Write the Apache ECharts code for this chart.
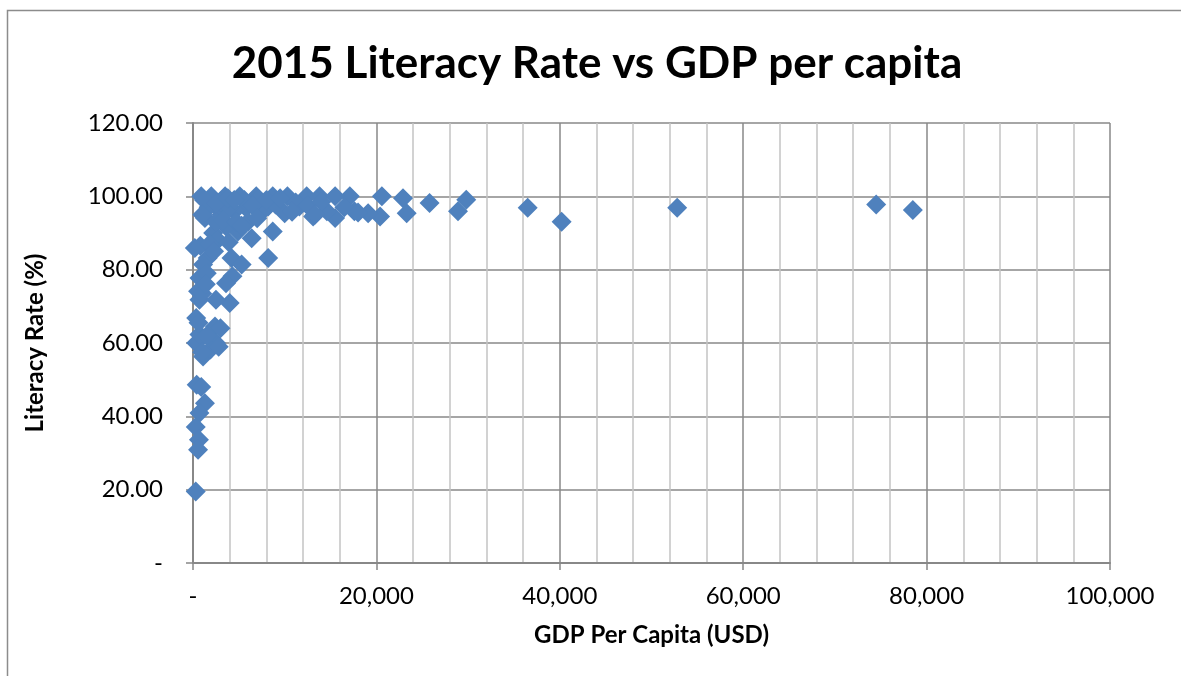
<!DOCTYPE html>
<html>
<head>
<meta charset="utf-8">
<script src="https://cdn.jsdelivr.net/npm/echarts@6/dist/echarts.min.js"></script>
<style>
html,body{margin:0;padding:0;background:#fff;}
#chart{width:1181px;height:676px;}
</style>
</head>
<body>
<div id="chart"></div>
<script>
// GDP per capita (USD)
const gdpPerCapita = [
  78500, 74500, 52800, 40200, 36500, 29800, 28900, 25800, 23300, 22900,
  20600, 20400, 19100, 17600, 17100, 15500, 15500, 14600, 13800, 13100,
  12400, 11600, 10300, 10000, 8700, 8700, 8200,
  8200, 6900, 6400, 5800, 5100, 4900, 4500, 4200, 3600, 3500,
  2900, 2200, 2000, 1600, 1300, 1100, 900, 200, 5300, 4300,
  3600, 700, 550, 700, 4000, 2500, 350, 2400, 350, 2500,
  1100, 700, 400, 1300, 700, 300, 650, 550, 300,
  11200, 7500, 6000, 7100, 3100, 2700, 1900, 1500, 800, 3000,
  4000, 5600, 6500, 1700, 1200, 2500, 3300, 4700, 5300, 7000,
  9000, 12500, 14000, 16500, 1800, 2300, 3900, 1000, 1400, 600,
  1500, 2800, 900, 1000, 3000, 1000, 2500, 3800, 4500, 8000,
  9500, 10800, 18000, 13300
];
// Literacy rate (%), same order
const literacyRate = [
  96.3, 97.8, 96.9, 93.1, 96.9, 99.1, 95.9, 98.2, 95.4, 99.5,
  100.0, 94.5, 95.4, 95.9, 100.0, 100.0, 94.1, 95.9, 100.0, 94.5,
  100.0, 97.2, 100.0, 95.4, 100.0, 90.4, 97.2,
  83.2, 100.0, 88.6, 96.8, 100.0, 90.4, 95.9, 83.2, 91.8, 100.0,
  96.3, 90.0, 100.0, 83.2, 94.1, 81.4, 100.0, 85.9, 81.4, 78.2,
  76.3, 77.7, 74.1, 71.8, 70.9, 71.8, 66.8, 64.5, 60.0, 60.0,
  56.3, 62.3, 48.6, 43.6, 40.9, 37.1, 33.6, 30.9, 19.5,
  98.3, 95.8, 93.1, 99.3, 95.0, 88.1, 58.2, 79.0, 86.5, 98.5,
  97.0, 99.0, 97.5, 97.0, 99.0, 93.0, 93.5, 93.0, 92.0, 94.0,
  97.8, 97.5, 98.5, 97.0, 87.0, 85.0, 87.5, 73.5, 76.0, 65.5,
  62.0, 59.0, 48.0, 57.5, 64.0, 95.0, 98.0, 99.5, 99.0, 99.0,
  99.5, 95.8, 95.6, 95.0
];
const titleText = '2015 Literacy Rate vs GDP per capita';
const xTitle = 'GDP Per Capita (USD)';
const yTitle = 'Literacy Rate (%)';

const points = gdpPerCapita.map((g, i) => [g, literacyRate[i]]);

const chart = echarts.init(document.getElementById('chart'), null, {renderer: 'canvas'});
const FONT = 'Lato, "Open Sans", sans-serif';
const major = '#888888';
const minor = '#c4c4c4';

chart.setOption({
  animation: false,
  backgroundColor: '#ffffff',
  grid: {left: 193, right: 71, top: 123, bottom: 113, containLabel: false},
  graphic: [
    {type: 'rect', shape: {x: 7.5, y: 10.5, width: 1300, height: 800},
     style: {fill: 'none', stroke: '#8c8c8c', lineWidth: 1.5}, silent: true, z: -1},
    {type: 'text', x: 597, y: 64,
     style: {text: titleText, font: 'bold 44px ' + FONT, fill: '#000',
             textAlign: 'center', textVerticalAlign: 'middle'}}
  ],
  xAxis: {
    type: 'value', min: 0, max: 100000, interval: 20000,
    name: xTitle, nameLocation: 'middle', nameGap: 60,
    nameTextStyle: {fontFamily: FONT, fontWeight: 'bold', fontSize: 24, color: '#000'},
    axisLine: {show: true, lineStyle: {color: major, width: 2}},
    axisTick: {show: true, length: 7, lineStyle: {color: major, width: 1.5}},
    minorTick: {show: false, splitNumber: 5},
    splitLine: {show: true, lineStyle: {color: major, width: 1.5}},
    minorSplitLine: {show: true, lineStyle: {color: minor, width: 1.5}},
    axisLabel: {fontFamily: FONT, fontSize: 24, color: '#000', margin: 21,
      formatter: v => v === 0 ? '-' : v.toLocaleString('en-US')}
  },
  yAxis: {
    type: 'value', min: 0, max: 120, interval: 20,
    name: yTitle, nameLocation: 'middle', nameGap: 146, nameRotate: 90,
    nameTextStyle: {fontFamily: FONT, fontWeight: 'bold', fontSize: 24, color: '#000'},
    axisLine: {show: true, lineStyle: {color: major, width: 2}},
    axisTick: {show: true, length: 7, lineStyle: {color: major, width: 1.5}},
    splitLine: {show: true, lineStyle: {color: major, width: 1.5}},
    axisLabel: {fontFamily: FONT, fontSize: 24, color: '#000', margin: 30,
      formatter: v => v === 0 ? '-' : v.toFixed(2)}
  },
  series: [{
    type: 'scatter',
    data: points,
    symbol: 'diamond',
    symbolSize: 20,
    itemStyle: {color: '#4f81bd', opacity: 1}
  }]
});
</script>
</body>
</html>
